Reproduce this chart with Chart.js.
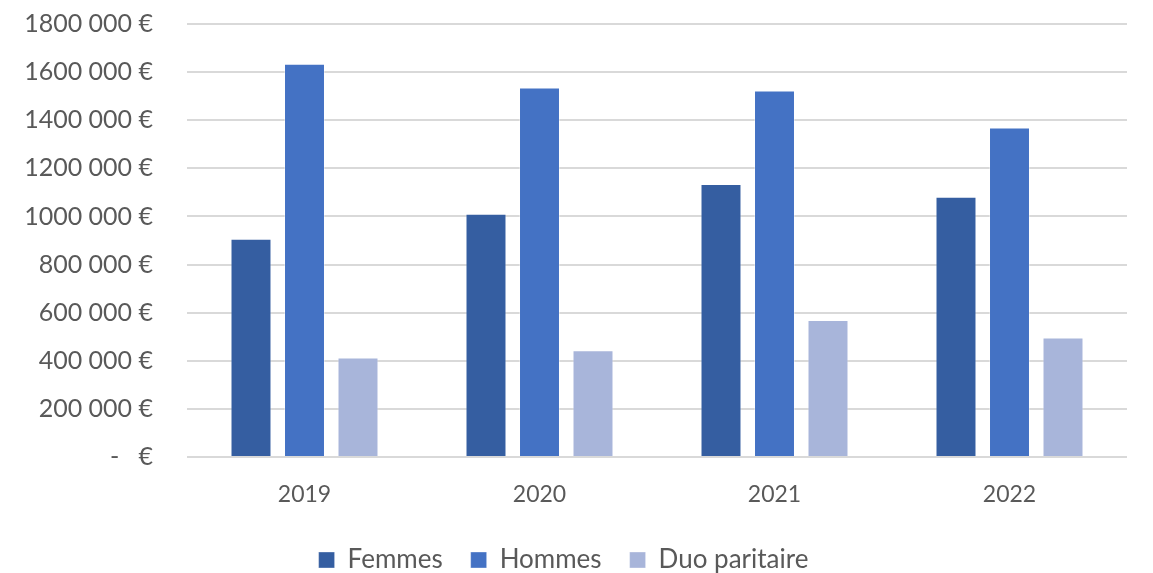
<!DOCTYPE html>
<html>
<head>
<meta charset="utf-8">
<script src="https://cdn.jsdelivr.net/npm/chart.js@4/dist/chart.umd.min.js"></script>
<style>
  html, body { margin: 0; padding: 0; background: #fff; }
  #wrap { width: 1153px; height: 573px; }
</style>
</head>
<body>
<div id="wrap"><canvas id="chart"></canvas></div>
<script>
var years = ["2019", "2020", "2021", "2022"];
var femmes = [907000, 1011000, 1135000, 1082000];
var hommes = [1635000, 1536000, 1524000, 1370000];
var duo = [414000, 444000, 570000, 497000];

var FONT = "Lato, 'Liberation Sans', sans-serif";

function euro(v) {
  if (v === 0) return "-   €";
  var s = String(v);
  // thousands group only, like the source labels ("1800 000 €")
  return s.slice(0, s.length - 3) + " " + s.slice(-3) + " €";
}

var barData = {
  labels: years,
  datasets: [
    { label: "Femmes", data: femmes, backgroundColor: "#355ea1", borderColor: "rgba(255,255,255,0.35)", borderWidth: 1 },
    { label: "Hommes", data: hommes, backgroundColor: "#4472c4", borderColor: "rgba(255,255,255,0.35)", borderWidth: 1 },
    { label: "Duo paritaire", data: duo, backgroundColor: "#a8b5da", borderColor: "rgba(255,255,255,0.35)", borderWidth: 1 }
  ]
};

var ctx = document.getElementById("chart").getContext("2d");
new Chart(ctx, {
  type: "bar",
  data: barData,
  options: {
    responsive: true,
    maintainAspectRatio: false,
    animation: false,
    layout: { padding: { top: 24, right: 26, bottom: -10, left: 0 } },
    datasets: { bar: { categoryPercentage: 0.683, barPercentage: 0.766 } },
    plugins: {
      legend: {
        position: "bottom",
        labels: {
          color: "#595959",
          font: { family: FONT, size: 26 },
          boxWidth: 16,
          boxHeight: 16,
          padding: 28
        }
      },
      tooltip: { enabled: false }
    },
    scales: {
      x: {
        afterFit: function (scale) { scale.height = 62; },
        grid: { display: false },
        border: { display: false },
        ticks: { color: "#595959", font: { family: FONT, size: 23 }, padding: 16 }
      },
      y: {
        min: 0,
        max: 1800000,
        afterFit: function (scale) {
          scale.width = 187;
          scale.paddingTop = 0;
          scale.paddingBottom = 0;
        },
        grid: { color: "#d9d9d9", lineWidth: 2, drawTicks: false },
        border: { display: false },
        ticks: {
          stepSize: 200000,
          color: "#595959",
          font: { family: FONT, size: 25 },
          padding: 34,
          callback: function (v) { return euro(v); }
        }
      }
    }
  }
});
</script>
</body>
</html>
